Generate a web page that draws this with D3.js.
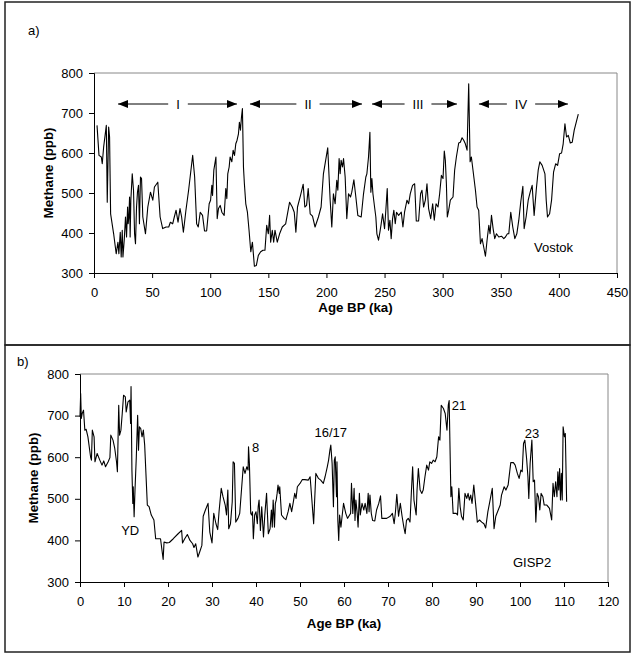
<!DOCTYPE html>
<html>
<head>
<meta charset="utf-8">
<script src="https://cdn.jsdelivr.net/npm/d3@7"></script>
<style>
  body { margin: 0; background: #fff; }
  svg { font-family: "Liberation Sans", Arial, sans-serif; }
  svg text { fill: #000; }
  .axis text { font-size: 13px; }
  .axis path, .axis line { stroke: #000; }
</style>
</head>
<body>
<div id="chart"></div>
<script>
// Vostok methane record (age ka, CH4 ppb)
const vostokAge = [2.6,4.3,6.3,7.1,8.3,10.6,11.4,12.6,13.4,14.3,16.9,19.1,20.6,21.4,22.6,23.4,24.3,24.9,26,27.1,28,28.9,29.4,30,30.6,31.1,31.7,32.9,34,34.9,35.7,36.6,37.4,38.3,39.1,40,40.9,42,44.3,46.3,48.6,50.6,52,54.9,56.9,59.1,62,64.3,65.7,67.7,69.1,70.6,72.3,74,75.4,76.9,79.1,81.4,83.4,84.9,86.6,88.3,89.7,91.4,93.4,95.1,96.9,99.1,100.3,101.4,102,103.1,104.9,106,107.1,108.6,110,112,113.4,114.3,115.1,116.3,117.1,118.6,119.7,120.9,122,123.1,124.3,125.1,126,126.9,127.7,128.6,129.4,130.6,132,133.4,134.9,136.3,138,139.7,141.4,143.4,145.4,147.1,148.6,150,151.1,152,153.4,154.6,155.7,157.7,159.7,162,164.9,168.3,170.6,172.3,173.7,175.1,177.7,180,181.4,182.9,184.3,186,188,190.2,193.1,195.4,197.4,201.1,203.2,204.6,206,207.5,208.9,209.8,210.9,211.8,212.6,213.8,214.7,216.1,217.5,219,220.7,221.8,223.6,225.3,227,229.9,231.9,233.9,234.8,236.2,237.4,238.2,239.1,240,241.4,242.5,243.4,244.8,246,247.1,248.3,250,251.1,252.3,253.4,254.6,255.7,256.9,258,259.2,260.3,262.1,264.4,265.8,267.2,269.3,270.7,272.1,274.1,275.9,277.3,279.3,281,282.2,283.6,285.1,286.5,287.9,289.7,291.4,292.8,294.3,296,297.4,298.9,300.3,301.4,302.3,303.2,304,305.2,306.6,308.9,310.3,311.8,313.8,315.2,316.7,318.1,319.5,321,322.4,323.6,324.7,326.1,328.2,329.6,331,332.5,333.9,335.3,336.8,338.2,339.7,340.8,342,343.4,344.8,346.3,348.3,350.6,352.6,354,355.7,356.9,358.6,360.3,362.1,363.8,365.5,367.2,369,370.1,371.8,373.6,375.3,377,378.7,380.5,382.2,383.6,385.6,388,389.1,390.2,392,393.7,395.4,397.2,398.9,400.6,402.3,403.7,405.2,406.6,408.1,409.8,411.5,413.2,415,416.7];
const vostokCH4 = [669,594,590,573,615,669,477,665,640,448,398,348,377,348,402,340,407,340,382,440,390,465,423,440,490,390,482,548,507,398,373,465,502,519,423,540,536,440,398,465,502,482,515,527,440,411,415,415,427,423,440,457,427,461,440,402,457,507,557,594,540,423,415,452,444,405,405,473,482,519,494,557,590,436,461,469,452,444,511,486,548,565,590,578,607,594,623,632,648,677,657,690,711,565,523,473,452,407,353,377,317,319,344,353,357,357,419,398,444,377,407,377,407,377,398,415,423,477,465,452,402,465,494,522,465,469,511,448,442,415,440,465,548,613,482,415,498,473,532,507,586,548,582,565,586,540,436,498,490,502,533,490,444,440,498,540,548,590,652,502,536,498,465,440,398,382,402,423,448,411,457,511,407,432,386,436,457,423,452,444,452,415,452,482,473,498,519,523,430,430,498,507,465,482,523,461,436,473,432,473,465,498,544,536,605,582,523,440,457,482,490,557,590,625,627,638,632,623,607,773,578,590,557,507,465,457,373,386,365,342,382,419,398,444,411,386,398,390,392,386,390,398,398,452,415,386,398,432,478,517,411,440,482,502,519,444,507,557,578,569,548,482,440,448,482,552,573,569,598,600,623,673,640,644,625,627,657,678,697];

// GISP2 methane record (age ka, CH4 ppb)
const gispAge = [0,0.15,0.3,0.5,0.8,1.1,1.4,1.8,2.4,2.6,2.8,3.2,3.4,3.9,4.5,5,5.4,5.8,6.4,6.8,7,7.5,7.9,8.3,8.5,8.8,9,9.3,9.6,9.9,10.3,10.5,10.9,11.3,11.5,11.6,11.8,12,12.1,12.3,12.5,12.8,13.1,13.3,13.5,13.8,14.1,14.4,14.7,15.3,15.7,16.2,16.8,17.2,17.8,18.3,18.9,19.1,19.7,20.3,21.2,22.3,23.1,23.3,23.8,24.4,25,25.6,25.9,26.3,26.8,27.2,27.7,28,28.5,29.1,29.5,30,30.4,30.9,31.3,31.6,32.1,32.5,33,33.3,33.6,33.8,34.2,34.6,34.8,35.1,35.4,35.9,36.3,36.7,37.1,37.5,37.9,38.2,38.3,38.5,38.8,39,39.2,39.4,39.7,40,40.3,40.5,40.7,41,41.3,41.7,42,42.4,42.8,43.2,43.5,43.7,43.9,44.2,44.4,44.6,44.8,45,45.3,45.4,45.8,46.4,46.8,47.3,47.7,48.1,48.5,48.8,49.1,49.4,50,50.5,51.1,51.9,52.3,52.7,53.1,53.6,54.2,54.7,55.3,55.7,56.2,56.5,56.8,57,57.3,57.6,57.8,58,58.3,58.4,58.6,58.8,59,59.3,59.6,59.9,60.4,60.8,61.1,61.5,61.7,62,62.3,62.5,62.7,63,63.2,63.5,63.7,64.1,64.5,64.8,65.2,65.5,65.7,65.9,66.2,66.5,67,67.4,67.9,68.3,68.6,69.1,69.7,70.5,71,71.4,71.7,72,72.4,72.8,73.2,73.6,73.9,74.2,74.6,75,75.3,75.6,75.9,76.4,76.6,76.9,77.3,77.7,78,78.4,78.8,79.2,79.5,79.9,80.3,80.7,81.1,81.5,81.8,82.1,82.6,83,83.4,83.7,83.9,84.3,84.5,84.8,85.5,85.8,86.1,86.4,86.7,87.1,87.5,87.9,88.2,88.5,88.8,89.1,89.5,89.9,90.3,90.8,91.3,91.8,92.2,92.7,93.2,93.7,94.1,94.5,94.9,95.5,95.8,96.4,96.8,97.3,97.9,98.5,98.9,99.4,99.8,100.2,100.5,100.8,101.1,101.5,101.8,102,102.3,102.7,103,103.3,103.6,103.9,104.2,104.5,104.8,105.2,105.5,106.1,106.7,107.2,107.5,107.8,108.1,108.4,108.6,108.8,109,109.2,109.4,109.6,109.8,110.1,110.3,110.6];
const gispCH4 = [697,753,693,705,713,665,667,649,601,593,665,649,589,609,593,581,591,577,589,599,653,641,621,589,565,725,653,665,705,749,745,709,733,737,681,770,569,489,529,457,521,601,701,617,673,669,649,665,629,485,481,461,449,404,404,404,354,396,394,395,404,416,424,394,404,414,400,392,383,392,360,372,388,458,473,489,420,394,465,440,426,469,525,505,485,461,521,428,440,493,589,585,444,453,465,521,577,561,577,569,625,585,465,461,469,404,461,469,440,481,497,424,481,408,461,513,416,428,473,432,497,432,489,497,513,533,513,529,461,453,450,469,489,469,493,513,501,529,537,546,546,545,553,497,440,561,549,545,537,553,577,593,617,629,585,481,593,601,505,589,448,400,461,432,461,489,465,453,458,465,537,465,525,448,497,465,432,513,461,489,473,489,465,513,469,509,465,448,447,473,489,507,453,453,453,458,465,440,469,511,458,489,458,432,416,448,453,444,513,577,497,461,521,573,521,513,521,553,581,569,589,585,593,589,601,649,641,725,717,705,665,725,736,505,529,465,465,461,525,481,458,449,513,501,513,497,509,489,533,489,444,449,444,440,430,469,497,525,428,458,469,485,509,529,521,533,587,587,581,561,549,569,565,633,641,597,553,501,585,641,541,545,444,513,505,473,513,505,485,485,477,449,537,505,541,505,565,521,573,497,561,497,673,649,657,493];

// glacial cycle brackets on the Vostok panel (ka)
const cycleLabels = ["I", "II", "III", "IV"];
const cycleStart = [20.7, 134.2, 239.2, 331.2];
const cycleEnd = [123, 230.6, 312.3, 407.8];
const cycleMid = [72.3, 184.1, 279.2, 367.4];

// GISP2 event labels (placed at age, ppb)
const gispNotes = ["YD", "8", "16/17", "21", "23"];
const gispNoteAge = [11.4, 39.1, 57, 84.5, 101.1];
const gispNoteCH4 = [413, 612, 648, 713, 646];
const gispNoteAnchor = ["middle", "start", "middle", "start", "start"];

const W = 631, H = 654;
const svg = d3.select("#chart").append("svg").attr("width", W).attr("height", H);

svg.append("defs").append("marker")
  .attr("id", "head")
  .attr("viewBox", "0 0 10 8")
  .attr("refX", 10).attr("refY", 4)
  .attr("markerWidth", 10).attr("markerHeight", 8)
  .attr("markerUnits", "userSpaceOnUse")
  .attr("orient", "auto")
  .append("path").attr("d", "M0,0L10,4L0,8Z").attr("fill", "#000");

// panel frames
svg.append("rect").attr("x", 5).attr("y", 2).attr("width", 625).attr("height", 343)
  .attr("fill", "none").attr("stroke", "#222").attr("stroke-width", 1.5);
svg.append("rect").attr("x", 5).attr("y", 345).attr("width", 625).attr("height", 307)
  .attr("fill", "none").attr("stroke", "#222").attr("stroke-width", 1.5);

function panel(opts) {
  const x = d3.scaleLinear().domain(opts.xDomain).range([opts.left, opts.right]);
  const y = d3.scaleLinear().domain([300, 800]).range([opts.bottom, opts.top]);
  const g = svg.append("g");

  // plot area border (grey top & right)
  g.append("path")
    .attr("d", `M${opts.left},${opts.top}H${opts.right}V${opts.bottom}`)
    .attr("fill", "none").attr("stroke", "#888").attr("stroke-width", 1);

  g.append("g").attr("class", "axis")
    .attr("transform", `translate(0,${opts.bottom})`)
    .call(d3.axisBottom(x).tickValues(opts.xTicks).tickSize(5).tickPadding(10).tickFormat(d3.format("d")))
    .call(a => a.selectAll("text").attr("font-family", null).attr("font-size", null));

  g.append("g").attr("class", "axis")
    .attr("transform", `translate(${opts.left},0)`)
    .call(d3.axisLeft(y).tickValues([300, 400, 500, 600, 700, 800]).tickSize(5).tickPadding(6))
    .call(a => a.selectAll("text").attr("font-family", null).attr("font-size", null));

  g.selectAll(".domain").attr("stroke-width", 1);

  const line = d3.line().x(d => x(d[0])).y(d => y(d[1]));
  g.append("path")
    .datum(opts.ages.map((a, i) => [a, opts.vals[i]]))
    .attr("d", line)
    .attr("fill", "none").attr("stroke", "#000").attr("stroke-width", 1.1)
    .attr("stroke-linejoin", "round");

  g.append("text")
    .attr("x", (opts.left + opts.right) / 2).attr("y", opts.xTitleY)
    .attr("text-anchor", "middle").attr("font-weight", "bold").attr("font-size", 13.3)
    .text("Age BP (ka)");

  g.append("text")
    .attr("transform", `translate(${opts.yTitleX},${(opts.top + opts.bottom) / 2}) rotate(-90)`)
    .attr("text-anchor", "middle").attr("font-weight", "bold").attr("font-size", 13.3)
    .text("Methane (ppb)");

  g.append("text").attr("x", opts.labelX).attr("y", opts.labelY)
    .attr("font-size", 13).text(opts.label);

  return { x, y, g };
}

// a) Vostok
const pa = panel({
  xDomain: [0, 450], left: 94, right: 617, top: 73, bottom: 273,
  xTicks: d3.range(0, 451, 50), ages: vostokAge, vals: vostokCH4,
  xTitleY: 312, yTitleX: 52.5, label: "a)", labelX: 28, labelY: 35
});

pa.g.append("text").attr("x", pa.x(378.6)).attr("y", pa.y(352.5))
  .attr("font-size", 13).text("Vostok");

const arrowY = 104;
const cycles = pa.g.append("g").style("opacity", 0.999);
cycleLabels.forEach((lab, i) => {
  const cx = Math.round(pa.x(cycleMid[i]));
  const t = cycles.append("text")
    .attr("x", cx).attr("y", arrowY + 4.5)
    .attr("text-anchor", "middle").attr("font-size", 13).text(lab);
  const half = t.node().getComputedTextLength() / 2 + 8;
  cycles.append("line")
    .attr("x1", cx - half).attr("x2", pa.x(cycleStart[i]))
    .attr("y1", arrowY).attr("y2", arrowY)
    .attr("stroke", "#000").attr("marker-end", "url(#head)");
  cycles.append("line")
    .attr("x1", cx + half).attr("x2", pa.x(cycleEnd[i]))
    .attr("y1", arrowY).attr("y2", arrowY)
    .attr("stroke", "#000").attr("marker-end", "url(#head)");
});

// b) GISP2
const pb = panel({
  xDomain: [0, 120], left: 80, right: 608, top: 374, bottom: 582,
  xTicks: d3.range(0, 121, 10), ages: gispAge, vals: gispCH4,
  xTitleY: 628, yTitleX: 38, label: "b)", labelX: 17, labelY: 366
});

gispNotes.forEach((n, i) => {
  pb.g.append("text")
    .attr("x", pb.x(gispNoteAge[i])).attr("y", pb.y(gispNoteCH4[i]))
    .attr("text-anchor", gispNoteAnchor[i]).attr("font-size", 13).text(n);
});

pb.g.append("text").attr("x", pb.x(98.4)).attr("y", pb.y(336))
  .attr("font-size", 13).text("GISP2");
</script>
</body>
</html>
